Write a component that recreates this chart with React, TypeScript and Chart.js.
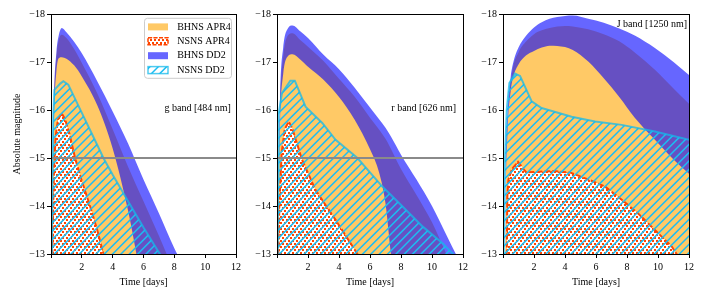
import React, { useEffect, useRef } from 'react';
import { Chart, registerables } from 'chart.js';

Chart.register(...registerables);

const FONT_FAMILY = "'Liberation Serif', 'Times New Roman', 'DejaVu Serif', serif";
Chart.defaults.font.family = FONT_FAMILY;
Chart.defaults.font.size = 10;
Chart.defaults.color = '#000';

// ---------------- ticks / labels ----------------
const xTicks = [0, 2, 4, 6, 8, 10, 12];
const yTicks = [-18, -17, -16, -15, -14, -13];
const referenceMagnitude = -15;
const seriesNames = ['BHNS APR4', 'NSNS APR4', 'BHNS DD2', 'NSNS DD2'];
const bandLabels = ['g band [484 nm]', 'r band [626 nm]', 'J band [1250 nm]'];
const xTitle = 'Time [days]';
const yTitle = 'Absolute magnitude';

// ---------------- g band ----------------
const gBhnsDd2Time = [0.05, 0.1, 0.2, 0.35, 0.5, 0.7, 1, 1.5, 2, 3, 4, 5, 6, 7, 8, 9];
const gBhnsDd2Upper = [-12.8, -14.5, -16.3, -17.2, -17.55, -17.71, -17.62, -17.42, -17.18, -16.6, -15.97, -15.3, -14.55, -13.85, -13.12, -12.5];
const gBhnsDd2Lower = [-12.8, -14.2, -15.9, -16.8, -17.08, -17.1, -17.07, -16.93, -16.7, -16.1, -15.2, -13.9, -12.3, -11.5, -11, -10.5];
const gBhnsApr4Time = [0.05, 0.1, 0.2, 0.35, 0.5, 0.7, 1, 1.5, 2, 3, 4, 5, 6, 7, 7.5, 8];
const gBhnsApr4Upper = [-12.8, -14.4, -16.2, -17.1, -17.45, -17.57, -17.5, -17.27, -16.98, -16.35, -15.6, -14.82, -14.1, -13.38, -13.0, -12.62];
const gNsnsDd2Time = [0.05, 0.1, 0.15, 0.22, 0.6, 0.8, 1.12, 2, 3, 3.4, 4, 5, 6, 7, 7.5];
const gNsnsDd2Upper = [-12.8, -14.8, -15.9, -16.42, -16.55, -16.6, -16.53, -15.94, -15.27, -15.0, -14.65, -14.1, -13.55, -13.03, -12.8];
const gNsnsApr4Time = [0.08, 0.12, 0.2, 0.3, 0.45, 0.69, 0.9, 1.2, 1.56, 2, 2.53, 3, 3.4, 3.6];
const gNsnsApr4Upper = [-12.8, -13.6, -14.8, -15.45, -15.8, -15.93, -15.82, -15.5, -15.0, -14.52, -14.0, -13.5, -13.0, -12.8];

// ---------------- r band ----------------
const rBhnsDd2Time = [0.05, 0.1, 0.2, 0.4, 0.7, 1, 1.5, 2, 3, 4, 5, 6, 6.6, 7, 7.35, 8, 9, 10, 11, 12];
const rBhnsDd2Upper = [-12.8, -14.5, -16.3, -17.3, -17.7, -17.76, -17.64, -17.5, -17.15, -16.85, -16.47, -16.05, -15.8, -15.63, -15.45, -15.07, -14.55, -14.0, -13.35, -12.7];
const rBhnsDd2Lower = [-12.8, -14.2, -15.8, -16.75, -17.12, -17.16, -17.05, -16.9, -16.63, -16.27, -15.8, -15.18, -14.68, -14.05, -13.0, -11.5, -11, -11, -11, -11];
const rBhnsApr4Time = [0.05, 0.1, 0.2, 0.4, 0.7, 1, 1.5, 2, 3, 4, 5, 6, 7, 8, 9, 10, 11, 12];
const rBhnsApr4Upper = [-12.8, -14.4, -16.1, -17.1, -17.55, -17.6, -17.46, -17.32, -17.02, -16.65, -16.28, -15.84, -15.4, -14.77, -14.23, -13.66, -12.95, -12.3];
const rNsnsDd2Time = [0.04, 0.07, 0.1, 0.32, 0.86, 1.15, 1.84, 2.92, 3.78, 5.19, 6.81, 8.1, 9.4, 10.7, 11.35, 12];
const rNsnsDd2Upper = [-12.8, -14.5, -15.9, -16.35, -16.61, -16.61, -16.07, -15.73, -15.38, -15.0, -14.4, -13.99, -13.57, -13.22, -13.0, -12.8];
const rNsnsApr4Time = [0.08, 0.15, 0.3, 0.5, 0.76, 1.0, 1.62, 2.49, 3.78, 5.19, 5.5];
const rNsnsApr4Upper = [-12.8, -14.0, -15.1, -15.6, -15.76, -15.6, -14.96, -14.33, -13.71, -13.0, -12.85];

// ---------------- J band ----------------
const jBhnsDd2Time = [0.12, 0.18, 0.3, 0.5, 0.67, 1, 1.5, 2, 2.5, 3, 4, 4.5, 5.5, 6.5, 7.5, 8.5, 9.8, 11, 12];
const jBhnsDd2Upper = [-12.8, -14.8, -16.0, -16.7, -17.0, -17.3, -17.55, -17.72, -17.83, -17.9, -17.96, -17.97, -17.9, -17.82, -17.7, -17.55, -17.29, -17.0, -16.73];
const jBhnsDd2Lower = [-12.8, -14.3, -15.6, -16.4, -16.7, -16.95, -17.14, -17.23, -17.3, -17.34, -17.31, -17.25, -17.01, -16.66, -16.27, -15.84, -15.38, -14.97, -14.67];
const jBhnsApr4Time = [0.14, 0.2, 0.33, 0.6, 1, 1.5, 2, 2.5, 3, 4, 4.5, 5.5, 6.5, 7.5, 8.5, 9.8, 11, 12];
const jBhnsApr4Upper = [-12.8, -14.6, -15.9, -16.8, -17.2, -17.43, -17.58, -17.66, -17.71, -17.75, -17.74, -17.68, -17.58, -17.43, -17.2, -16.84, -16.45, -16.13];
const jNsnsDd2Time = [0.04, 0.08, 0.13, 0.24, 0.41, 0.77, 1.1, 1.85, 2.49, 4.43, 5.94, 7.66, 9.8, 12];
const jNsnsDd2Upper = [-12.8, -14.0, -15.0, -16.0, -16.56, -16.76, -16.71, -16.18, -16.04, -15.86, -15.76, -15.69, -15.55, -15.38];
const jNsnsApr4Time = [0.24, 0.26, 0.28, 0.35, 0.6, 0.97, 1.25, 1.5, 3.3, 4.4, 5.9, 6.6, 7.7, 8.7, 9.8, 10.9, 11.2, 11.5];
const jNsnsApr4Upper = [-12.8, -13.5, -14.2, -14.55, -14.78, -14.92, -14.8, -14.7, -14.73, -14.69, -14.5, -14.4, -14.12, -13.85, -13.5, -13.15, -13.0, -12.8];

// ---------------- styles ----------------
const ORANGE = 'rgba(255,165,0,0.6)';
const BLUE = 'rgba(0,0,255,0.6)';
const RED = '#FF4500';
const HATCH = '#1CBDF3';
const CYAN_EDGE = 'rgba(20,185,235,0.75)';
const REF_GRAY = '#8a8a8a';

function makeHatch(): CanvasPattern | string {
  const c = document.createElement('canvas');
  const s = 25;
  c.width = s;
  c.height = s;
  const g = c.getContext('2d');
  if (!g) return HATCH;
  g.strokeStyle = HATCH;
  g.lineWidth = 1.5;
  const n = 3;
  const step = s / n;
  g.beginPath();
  for (let k = -1; k <= 2 * n + 1; k++) {
    const cc = k * step;
    g.moveTo(-2, cc + 2);
    g.lineTo(cc + 2, -2);
  }
  g.stroke();
  return g.createPattern(c, 'repeat') || HATCH;
}

function makeDots(): CanvasPattern | string {
  const c = document.createElement('canvas');
  c.width = 8;
  c.height = 6;
  const g = c.getContext('2d');
  if (!g) return RED;
  g.fillStyle = '#fff';
  g.fillRect(0, 0, 8, 6);
  g.fillStyle = RED;
  g.fillRect(0, 0, 2, 2);
  g.fillRect(4, 0, 2, 2);
  g.fillRect(2, 3, 2, 2);
  g.fillRect(6, 3, 2, 2);
  return g.createPattern(c, 'repeat') || RED;
}

function xy(t: number[], m: number[]) {
  return t.map((x, i) => ({ x, y: m[i] }));
}

function fmtMag(v: number) {
  return v < 0 ? '\u2212' + Math.abs(v) : String(v);
}

type PanelDef = {
  band: string;
  labelAt: { x: number; y: number };
  showRef: boolean;
  legend: boolean;
  showYTitle: boolean;
  padLeft: number;
  padRight: number;
  yWidth: number;
  bhnsDd2T: number[];
  bhnsDd2Hi: number[];
  bhnsDd2Lo: number[];
  bhnsApr4T: number[];
  bhnsApr4Hi: number[];
  nsnsDd2T: number[];
  nsnsDd2Hi: number[];
  nsnsApr4T: number[];
  nsnsApr4Hi: number[];
};

const panels: PanelDef[] = [
  {
    band: bandLabels[0], labelAt: { x: 11.67, y: -16.04 }, showRef: true, legend: true, showYTitle: true,
    padLeft: 0, padRight: 472, yWidth: 51,
    bhnsDd2T: gBhnsDd2Time, bhnsDd2Hi: gBhnsDd2Upper, bhnsDd2Lo: gBhnsDd2Lower,
    bhnsApr4T: gBhnsApr4Time, bhnsApr4Hi: gBhnsApr4Upper,
    nsnsDd2T: gNsnsDd2Time, nsnsDd2Hi: gNsnsDd2Upper,
    nsnsApr4T: gNsnsApr4Time, nsnsApr4Hi: gNsnsApr4Upper,
  },
  {
    band: bandLabels[1], labelAt: { x: 11.55, y: -16.04 }, showRef: true, legend: false, showYTitle: false,
    padLeft: 237, padRight: 245, yWidth: 40,
    bhnsDd2T: rBhnsDd2Time, bhnsDd2Hi: rBhnsDd2Upper, bhnsDd2Lo: rBhnsDd2Lower,
    bhnsApr4T: rBhnsApr4Time, bhnsApr4Hi: rBhnsApr4Upper,
    nsnsDd2T: rNsnsDd2Time, nsnsDd2Hi: rNsnsDd2Upper,
    nsnsApr4T: rNsnsApr4Time, nsnsApr4Hi: rNsnsApr4Upper,
  },
  {
    band: bandLabels[2], labelAt: { x: 11.87, y: -17.79 }, showRef: false, legend: false, showYTitle: false,
    padLeft: 463, padRight: 19, yWidth: 40,
    bhnsDd2T: jBhnsDd2Time, bhnsDd2Hi: jBhnsDd2Upper, bhnsDd2Lo: jBhnsDd2Lower,
    bhnsApr4T: jBhnsApr4Time, bhnsApr4Hi: jBhnsApr4Upper,
    nsnsDd2T: jNsnsDd2Time, nsnsDd2Hi: jNsnsDd2Upper,
    nsnsApr4T: jNsnsApr4Time, nsnsApr4Hi: jNsnsApr4Upper,
  },
];

function buildConfig(p: PanelDef, hatch: CanvasPattern | string, dots: CanvasPattern | string): any {
  const common = { pointRadius: 0, pointHoverRadius: 0, clip: 0 };
  const datasets: any[] = [];
  if (p.showRef) {
    datasets.push({
      ...common, label: 'ref', data: [{ x: 0, y: referenceMagnitude }, { x: 12, y: referenceMagnitude }],
      borderColor: REF_GRAY, borderWidth: 2, fill: false, order: 0,
    });
  }
  datasets.push({
    ...common, label: seriesNames[3], data: xy(p.nsnsDd2T, p.nsnsDd2Hi),
    borderColor: CYAN_EDGE, borderWidth: 2, backgroundColor: hatch, fill: { value: -12 }, tension: 0, order: 1,
  });
  datasets.push({
    ...common, label: seriesNames[1], data: xy(p.nsnsApr4T, p.nsnsApr4Hi),
    borderColor: RED, borderWidth: 2, borderDash: [6, 2], backgroundColor: dots, fill: { value: -12 }, tension: 0, order: 2,
  });
  datasets.push({
    ...common, label: seriesNames[2], data: xy(p.bhnsDd2T, p.bhnsDd2Hi),
    borderColor: 'transparent', borderWidth: 0, backgroundColor: BLUE, fill: '+1', cubicInterpolationMode: 'monotone', order: 3,
  });
  datasets.push({
    ...common, label: seriesNames[2] + ' lower', data: xy(p.bhnsDd2T, p.bhnsDd2Lo),
    borderColor: 'transparent', borderWidth: 0, backgroundColor: 'transparent', fill: false, cubicInterpolationMode: 'monotone', order: 3,
  });
  datasets.push({
    ...common, label: seriesNames[0], data: xy(p.bhnsApr4T, p.bhnsApr4Hi),
    borderColor: 'transparent', borderWidth: 0, backgroundColor: ORANGE, fill: { value: -12 }, cubicInterpolationMode: 'monotone', order: 4,
  });

  const decor = {
    id: 'panelDecor',
    afterDraw(chart: any) {
      const { ctx, chartArea: a, scales } = chart;
      ctx.save();
      ctx.strokeStyle = '#000';
      ctx.lineWidth = 1;
      ctx.strokeRect(a.left + 0.5, a.top + 0.5, a.right - a.left, a.bottom - a.top);
      ctx.fillStyle = '#000';
      ctx.font = `10px ${FONT_FAMILY}`;
      ctx.textAlign = 'right';
      ctx.textBaseline = 'middle';
      ctx.fillText(p.band, scales.x.getPixelForValue(p.labelAt.x), scales.y.getPixelForValue(p.labelAt.y));
      if (p.legend) {
        const w = 87;
        const h = 60;
        const lx = a.right - 4.5 - w;
        const ly = a.top + 4.3;
        const r = 3;
        ctx.beginPath();
        ctx.moveTo(lx + r, ly);
        ctx.lineTo(lx + w - r, ly);
        ctx.quadraticCurveTo(lx + w, ly, lx + w, ly + r);
        ctx.lineTo(lx + w, ly + h - r);
        ctx.quadraticCurveTo(lx + w, ly + h, lx + w - r, ly + h);
        ctx.lineTo(lx + r, ly + h);
        ctx.quadraticCurveTo(lx, ly + h, lx, ly + h - r);
        ctx.lineTo(lx, ly + r);
        ctx.quadraticCurveTo(lx, ly, lx + r, ly);
        ctx.closePath();
        ctx.fillStyle = 'rgba(255,255,255,0.8)';
        ctx.fill();
        ctx.strokeStyle = '#cccccc';
        ctx.lineWidth = 1;
        ctx.stroke();
        const fills = [ORANGE, dots, BLUE, hatch];
        const edges = [null, RED, null, CYAN_EDGE];
        seriesNames.forEach((name, i) => {
          const cy = ly + 8.6 + i * 14.4;
          const sx = lx + 3.5;
          const sy = cy - 3.5;
          ctx.fillStyle = fills[i] as any;
          ctx.fillRect(sx, sy, 20, 7);
          if (edges[i]) {
            ctx.strokeStyle = edges[i] as string;
            ctx.lineWidth = 1.5;
            ctx.setLineDash(i === 1 ? [4, 1.5] : []);
            ctx.strokeRect(sx, sy, 20, 7);
            ctx.setLineDash([]);
          }
          ctx.fillStyle = '#000';
          ctx.textAlign = 'left';
          ctx.textBaseline = 'middle';
          ctx.fillText(name, lx + 32.7, cy);
        });
      }
      ctx.restore();
    },
  };

  return {
    type: 'line',
    data: { datasets },
    plugins: [decor],
    options: {
      responsive: false,
      animation: false,
      devicePixelRatio: 1,
      events: [],
      layout: { padding: { left: p.padLeft, right: p.padRight, top: 14, bottom: 0 } },
      elements: { line: { capBezierPoints: false } },
      plugins: { legend: { display: false }, tooltip: { enabled: false } },
      scales: {
        x: {
          type: 'linear',
          min: 0,
          max: 12,
          afterBuildTicks: (s: any) => { s.ticks = xTicks.map((v) => ({ value: v })); },
          afterFit: (s: any) => { s.height = 46; },
          grid: { drawOnChartArea: false, drawTicks: true, tickLength: 4, color: '#000', lineWidth: 1 },
          border: { display: false },
          ticks: {
            autoSkip: false, maxRotation: 0, padding: 3, color: '#000',
            callback: (v: any) => (Number(v) === 0 ? '' : String(v)),
          },
          title: { display: true, text: xTitle, color: '#000', padding: { top: 0, bottom: 12 } },
        },
        y: {
          type: 'linear',
          min: -18,
          max: -13,
          reverse: true,
          afterBuildTicks: (s: any) => { s.ticks = yTicks.map((v) => ({ value: v })); },
          afterFit: (s: any) => { s.width = p.yWidth; },
          grid: { drawOnChartArea: false, drawTicks: true, tickLength: 4, color: '#000', lineWidth: 1 },
          border: { display: false },
          ticks: { padding: 2, color: '#000', callback: (v: any) => fmtMag(Number(v)) },
          title: { display: p.showYTitle, text: yTitle, color: '#000', padding: { top: 11, bottom: 0 } },
        },
      },
    },
  };
}

export default function App() {
  const r0 = useRef<HTMLCanvasElement>(null);
  const r1 = useRef<HTMLCanvasElement>(null);
  const r2 = useRef<HTMLCanvasElement>(null);
  useEffect(() => {
    const refs = [r0, r1, r2];
    const hatch = makeHatch();
    const dots = makeDots();
    const charts = panels.map((p, i) => new Chart(refs[i].current as HTMLCanvasElement, buildConfig(p, hatch, dots)));
    return () => charts.forEach((c) => c.destroy());
  }, []);
  const cs: React.CSSProperties = { position: 'absolute', left: 0, top: 0, width: 708, height: 300 };
  return (
    <div style={{ position: 'fixed', left: 0, top: 0, width: 708, height: 300, background: '#fff' }}>
      <canvas ref={r0} width={708} height={300} style={cs} />
      <canvas ref={r1} width={708} height={300} style={cs} />
      <canvas ref={r2} width={708} height={300} style={cs} />
    </div>
  );
}
